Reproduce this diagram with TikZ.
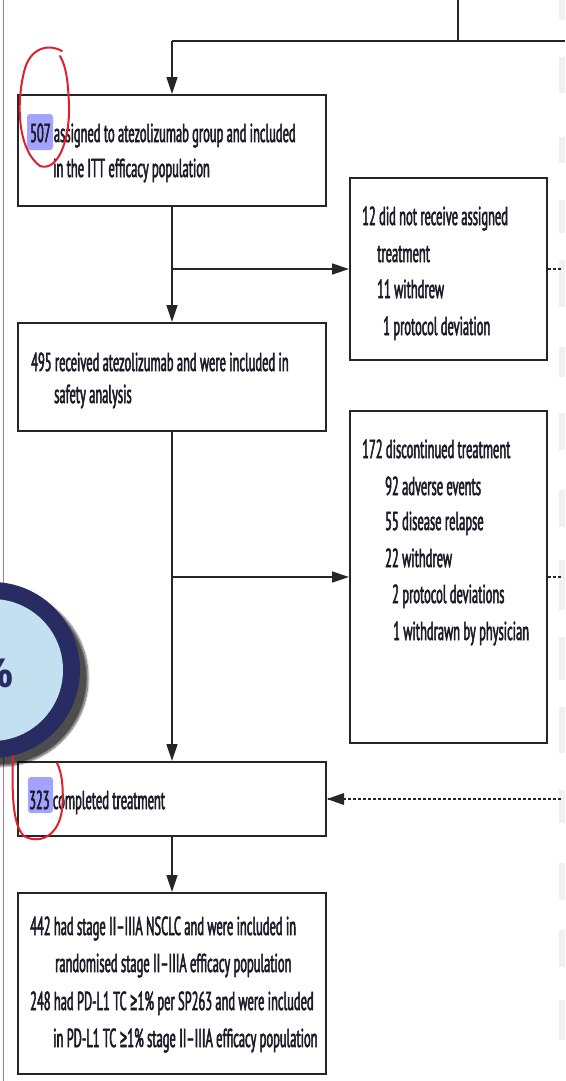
\documentclass[tikz,border=0pt]{standalone}
\usepackage{fontspec}
\setmainfont{PT Sans}[FakeStretch=0.48, FakeBold=2]
\newfontfamily\symfont{DejaVu Sans}[FakeStretch=0.35, FakeBold=2]
\newfontfamily\badgefont{Open Sans}
\usepackage{xcolor}
\usetikzlibrary{arrows.meta,shadows.blur}

\definecolor{inkcol}{HTML}{1C1C28}
\definecolor{boxline}{HTML}{262626}
\definecolor{marker}{HTML}{A3A3FF}
\definecolor{pen}{HTML}{E0202C}
\definecolor{margin}{HTML}{C47484}
\definecolor{ring}{HTML}{292C62}
\definecolor{disc}{HTML}{C2E0F0}

\tikzset{
  box/.style={draw=boxline, line width=2pt, anchor=north west, inner sep=0pt},
  txt/.style={anchor=base west, inner sep=0pt, text=inkcol,
    font=\fontsize{26}{30}\selectfont},
  arr/.style={-{Triangle[length=17pt,width=11pt]}, line width=1.4pt, draw=boxline},
  dots/.style={line width=2pt, dash pattern=on 3pt off 2pt, draw=boxline},
  hilite/.style={fill=marker, rounded corners=3pt},
  pencircle/.style={draw=pen, line width=2pt, line cap=round}
}

\begin{document}
\begin{tikzpicture}[x=1pt,y=-1pt]
    \useasboundingbox (0,0) rectangle (565,1081);

    % Page margin and side strips
    \draw[margin, line width=0.8pt] (3,0) -- (3,1081);
    \foreach \ya/\yb in {0/20,57/93,137/163,200/233,260/307,347/377,413/450,
        490/527,560/610,637/680,707/753,790/823,863/900,930/967,1000/1040}
      \fill[gray!12] (559,\ya) rectangle (565,\yb);

    % Boxes
    \node[box, minimum width=308pt, minimum height=111pt] (itt) at (17,94) {};
    \node[box, minimum width=197pt, minimum height=182pt] (norx) at (349,177) {};
    \node[box, minimum width=308pt, minimum height=108pt] (safety) at (17,322) {};
    \node[box, minimum width=197pt, minimum height=332pt] (disc) at (349,410) {};
    \node[box, minimum width=308pt, minimum height=74pt] (done) at (17,761) {};
    \node[box, minimum width=308pt, minimum height=181pt] (stage) at (17,892) {};

    % Highlights
    \fill[hilite] (27,114) rectangle (53,150);
    \fill[hilite] (28,777) rectangle (53,813);

    % Texts
    \node[txt] (itta) at (30,142) {507 assigned to atezolizumab group and included};
    \node[txt] (ittb) at (53,177) {in the ITT efficacy population};

    \node[txt] (norxa) at (362,225) {12 did not receive assigned};
    \node[txt] (norxb) at (377,262) {treatment};
    \node[txt] (norxc) at (377,298) {11 withdrew};
    \node[txt] (norxd) at (383,335) {1 protocol deviation};

    \node[txt] (safetya) at (31,371) {495 received atezolizumab and were included in};
    \node[txt] (safetyb) at (54,403) {safety analysis};

    \node[txt] (disca) at (362,458) {172 discontinued treatment};
    \node[txt] (discb) at (385,495) {92 adverse events};
    \node[txt] (discc) at (385,530) {55 disease relapse};
    \node[txt] (discd) at (385,567) {22 withdrew};
    \node[txt] (disce) at (392,603) {2 protocol deviations};
    \node[txt] (discf) at (393,640) {1 withdrawn by physician};

    \node[txt] (donea) at (29,809) {323 completed treatment};

    \node[txt] (stagea) at (30,935) {442 had stage II–IIIA NSCLC and were included in};
    \node[txt] (stageb) at (55,972) {randomised stage II–IIIA efficacy population};
    \node[txt] (stagec) at (30,1010) {248 had PD-L1 TC {\symfont ≥}1\% per SP263 and were included};
    \node[txt] (staged) at (53,1047) {in PD-L1 TC {\symfont ≥}1\% stage II–IIIA efficacy population};

    % Connectors
    \coordinate (feed) at (458,0);
    \coordinate (split) at (458,41);
    \coordinate (feedend) at (565,41);
    \draw[boxline, line width=1.4pt] (feed) -- (split);
    \draw[boxline, line width=1.4pt] (feedend) -- (itt.north |- split);
    \draw[arr] (itt.north |- split) -- (itt.north);
    \draw[arr] (itt.south) -- (safety.north);
    \draw[arr] (itt.south |- norx.west) -- (norx.west);
    \draw[arr] (safety.south) -- (done.north);
    \draw[arr] (safety.south |- disc.west) -- (disc.west);
    \draw[arr] (done.south) -- (stage.north);
    \coordinate (norxout) at (561,0 |- norx.east);
    \coordinate (discout) at (561,0 |- disc.east);
    \coordinate (backin) at (561,0 |- done.east);
    \draw[dots] (norx.east) -- (norxout);
    \draw[dots] (disc.east) -- (discout);
    \draw[dots] (backin) -- (done.east);
    \fill[boxline] (done.east) -- ++(17,-6) -- ++(0,12) -- cycle;

    % Badge
    \fill[ring, blur shadow={shadow xshift=8pt, shadow yshift=-8pt,
        shadow blur steps=10, shadow opacity=70}]
      (-8,670) circle (88pt);
    \fill[disc] (-8,670) circle (71pt);
    \node[anchor=east, inner sep=0pt, text=ring, font=\badgefont\bfseries\fontsize{40}{40}\selectfont]
      (badge) at (14,673) {\%};

    % Pen marks
    \draw[pencircle] (62,51) .. controls (50,44) and (30,46) .. (24,72)
      .. controls (16,105) and (18,150) .. (40,166)
      .. controls (58,172) and (70,140) .. (69,105)
      .. controls (68,80) and (66,66) .. (60,56);
    \draw[pencircle] (13,756) .. controls (12,790) and (12,825) .. (24,836)
      .. controls (38,844) and (58,838) .. (62,810)
      .. controls (64,790) and (62,772) .. (57,763);
\end{tikzpicture}
\end{document}
